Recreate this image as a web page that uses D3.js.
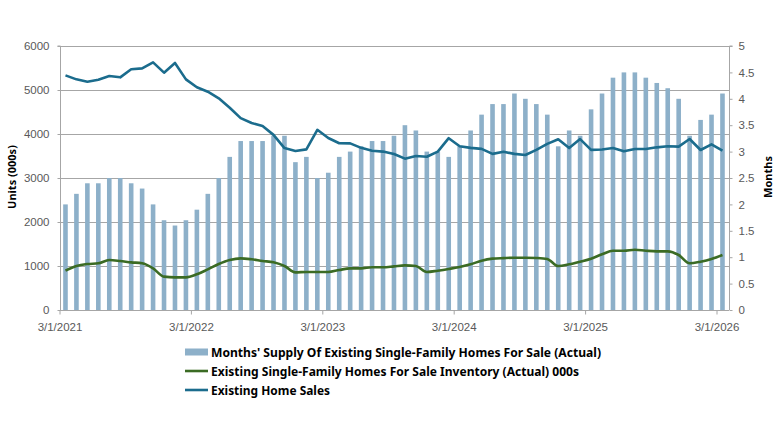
<!DOCTYPE html>
<html>
<head>
<meta charset="utf-8">
<script src="https://cdn.jsdelivr.net/npm/d3@7"></script>
<style>
  html, body { margin: 0; padding: 0; background: #fff; }
  svg { display: block; font-family: "Noto Sans", "Open Sans", sans-serif; }
</style>
</head>
<body>
<svg id="chart" width="780" height="439"></svg>
<script>
// ---- Data ----
const yearLabels = ["3/1/2021", "3/1/2022", "3/1/2023", "3/1/2024", "3/1/2025", "3/1/2026"];
const monthsCount = 61; // March 2021 .. March 2026

const monthsSupply = [
  2.0, 2.2, 2.4, 2.4, 2.5, 2.5, 2.4, 2.3, 2.0, 1.7, 1.6, 1.7, 1.9, 2.2, 2.5, 2.9,
  3.2, 3.2, 3.2, 3.3, 3.3, 2.8, 2.9, 2.5, 2.6, 2.9, 3.0, 3.1, 3.2, 3.2, 3.3, 3.5, 3.4, 3.0,
  3.0, 2.9, 3.1, 3.4, 3.7, 3.9, 3.9, 4.1, 4.0, 3.9, 3.7, 3.1, 3.4, 3.3, 3.8, 4.1, 4.4,
  4.5, 4.5, 4.4, 4.3, 4.2, 4.0, 3.3, 3.6, 3.7, 4.1
];

const inventory = [
  894, 1000, 1045, 1061, 1136, 1114, 1083, 1061, 947, 758, 742, 742, 811, 924, 1045, 1136, 1174, 1152,
  1114, 1083, 1000, 856, 864, 864, 864, 909, 947, 947, 970, 970, 992, 1015, 1000, 864,
  894, 932, 977, 1038, 1121, 1167, 1180, 1189, 1189, 1182, 1159, 1000, 1038, 1098, 1167, 1265, 1348,
  1348, 1371, 1348, 1333, 1333, 1250, 1061, 1098, 1159, 1250
];

const homeSales = [
  5333, 5242, 5189, 5235, 5318, 5288, 5470, 5492, 5629, 5394, 5614, 5242, 5061, 4962, 4811, 4598, 4360, 4250,
  4180, 3980, 3680, 3615, 3650, 4095, 3910, 3790, 3787, 3685, 3620, 3600, 3545, 3440, 3500, 3482,
  3600, 3905, 3722, 3685, 3662, 3548, 3595, 3548, 3522, 3640, 3776, 3882, 3680, 3885, 3640, 3648, 3681,
  3606, 3659, 3659, 3697, 3720, 3712, 3886, 3636, 3765, 3621
];

const leftTicks = [0, 1000, 2000, 3000, 4000, 5000, 6000];
const rightTicks = [0, 0.5, 1, 1.5, 2, 2.5, 3, 3.5, 4, 4.5, 5];

const legendLabels = [
  "Months' Supply Of Existing Single-Family Homes For Sale (Actual)",
  "Existing Single-Family Homes For Sale Inventory (Actual) 000s",
  "Existing Home Sales"
];

// ---- Styles ----
const barColor = "#8db0c9";
const greenColor = "#3b6b24";
const blueColor = "#1b6c8d";
const gridColor = "#a6a6a6";
const tickTextColor = "#595959";

// ---- Layout ----
const svg = d3.select("#chart");
const plotLeft = 60, plotRight = 729, plotTop = 46, plotBottom = 310;

const idx = d3.range(monthsCount);
const x = d3.scaleBand().domain(idx).range([plotLeft, plotLeft + monthsCount * 10.95]).padding(0);
const yL = d3.scaleLinear().domain([0, 6000]).range([plotBottom, plotTop]);
const yR = d3.scaleLinear().domain([0, 5]).range([plotBottom, plotTop]);

// Gridlines
svg.append("g").selectAll("line").data(leftTicks.filter(d => d > 0)).join("line")
  .attr("x1", plotLeft).attr("x2", plotRight)
  .attr("y1", d => yL(d) + 0.5).attr("y2", d => yL(d) + 0.5)
  .attr("stroke", gridColor).attr("stroke-width", 1);

// Bars
const barW = 4.6;
svg.append("g").selectAll("rect").data(monthsSupply).join("rect")
  .attr("x", (d, i) => x(i) + x.bandwidth() / 2 - barW / 2)
  .attr("width", barW)
  .attr("y", d => yR(d))
  .attr("height", d => plotBottom - yR(d))
  .attr("fill", barColor);

// Left axis
const leftAxis = d3.axisLeft(yL).tickValues(leftTicks).tickSize(3).tickPadding(8).tickFormat(d3.format("d"));
const gL = svg.append("g").attr("transform", `translate(${plotLeft + 0.5},0)`).call(leftAxis);
gL.select(".domain").attr("stroke", gridColor).attr("d", `M-3,${plotTop}H0V${plotBottom}`);
gL.selectAll(".tick line").attr("stroke", gridColor);
gL.selectAll(".tick text").attr("fill", tickTextColor).attr("font-size", 11.5);

// Right axis
const rightAxis = d3.axisRight(yR).tickValues(rightTicks).tickSize(3).tickPadding(6).tickFormat(d => String(d));
const gR = svg.append("g").attr("transform", `translate(${plotRight + 0.5},0)`).call(rightAxis);
gR.select(".domain").attr("stroke", gridColor).attr("d", `M3,${plotTop}H0V${plotBottom}`);
gR.selectAll(".tick line").attr("stroke", gridColor);
gR.selectAll(".tick text").attr("fill", tickTextColor).attr("font-size", 11.5);

// Bottom axis
const yearIdx = yearLabels.map((d, i) => i * 12);
const xAxis = d3.axisBottom(x).tickValues(yearIdx).tickSize(4).tickPadding(8)
  .tickFormat((d, i) => yearLabels[i]);
const gB = svg.append("g").attr("transform", `translate(0,${plotBottom + 0.5})`).call(xAxis);
gB.select(".domain").attr("stroke", gridColor).attr("d", `M${plotLeft},0H${plotRight}`);
gB.selectAll(".tick").attr("transform", d => `translate(${x(d)},0)`);
gB.selectAll(".tick line").attr("stroke", gridColor);
gB.selectAll(".tick text").attr("fill", tickTextColor).attr("font-size", 11.5);

// Lines
const cx = i => x(i) + x.bandwidth() / 2;
const greenLine = d3.line().x((d, i) => cx(i)).y(d => yL(d)).curve(d3.curveMonotoneX);
const blueLine = d3.line().x((d, i) => cx(i)).y(d => yL(d));

svg.append("path").datum(inventory).attr("d", greenLine)
  .attr("fill", "none").attr("stroke", greenColor).attr("stroke-width", 2.6)
  .attr("stroke-linejoin", "round");
svg.append("path").datum(homeSales).attr("d", blueLine)
  .attr("fill", "none").attr("stroke", blueColor).attr("stroke-width", 2.6)
  .attr("stroke-linejoin", "round");

// Axis titles
svg.append("text").attr("transform", "translate(16,177) rotate(-90)")
  .attr("text-anchor", "middle").attr("font-size", 11).attr("font-weight", "bold")
  .attr("fill", "#000").text("Units (000s)");
svg.append("text").attr("transform", "translate(772,177) rotate(-90)")
  .attr("text-anchor", "middle").attr("font-size", 11).attr("font-weight", "bold")
  .attr("fill", "#000").text("Months");

// Legend
const legendX = 185, legendTextX = 211;
const legendY = [352, 371, 390];
const legendWidths = [390, 368, 119];
const lg = svg.append("g");
lg.append("rect").attr("x", legendX).attr("y", legendY[0] - 3.5).attr("width", 23).attr("height", 7)
  .attr("fill", barColor);
lg.append("line").attr("x1", legendX).attr("x2", legendX + 23)
  .attr("y1", legendY[1]).attr("y2", legendY[1]).attr("stroke", greenColor).attr("stroke-width", 2.6);
lg.append("line").attr("x1", legendX).attr("x2", legendX + 23)
  .attr("y1", legendY[2]).attr("y2", legendY[2]).attr("stroke", blueColor).attr("stroke-width", 2.6);
lg.selectAll("text").data(legendLabels).join("text")
  .attr("x", legendTextX).attr("y", (d, i) => legendY[i] + 4.5)
  .attr("font-size", 13).attr("font-weight", "bold").attr("fill", "#000")
  .attr("textLength", (d, i) => legendWidths[i]).attr("lengthAdjust", "spacingAndGlyphs")
  .text(d => d);
</script>
</body>
</html>
